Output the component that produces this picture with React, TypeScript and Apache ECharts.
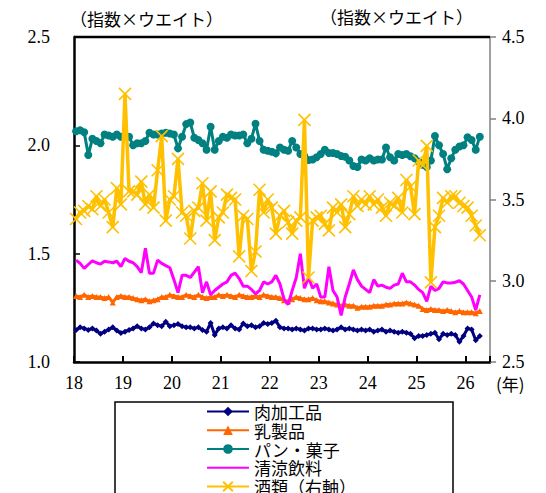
import React, { useEffect, useRef } from "react";
import * as echarts from "echarts";

const seriesNames = ["肉加工品", "乳製品", "パン・菓子", "清涼飲料", "酒類（右軸）"];
const yearTicks = [18, 19, 20, 21, 22, 23, 24, 25, 26];

const meat = [
  1.148, 1.16, 1.155, 1.148, 1.155, 1.145, 1.13, 1.14, 1.15, 1.16, 1.145, 1.134,
  1.14, 1.148, 1.155, 1.165, 1.155, 1.15, 1.16, 1.178, 1.17, 1.165, 1.186, 1.165,
  1.17, 1.175, 1.165, 1.16, 1.16, 1.155, 1.16, 1.148, 1.14, 1.18, 1.125, 1.155,
  1.16, 1.155, 1.17, 1.155, 1.15, 1.178, 1.165, 1.17, 1.16, 1.165, 1.18, 1.175,
  1.18, 1.19, 1.16, 1.155, 1.155, 1.15, 1.155, 1.15, 1.145, 1.155, 1.155, 1.15,
  1.15, 1.155, 1.15, 1.145, 1.15, 1.16, 1.15, 1.155, 1.15, 1.145, 1.15, 1.145,
  1.15, 1.14, 1.145, 1.15, 1.14, 1.145, 1.14, 1.135, 1.14, 1.135, 1.13, 1.11,
  1.12, 1.12, 1.125, 1.13, 1.135, 1.105, 1.13, 1.125, 1.13, 1.125, 1.094, 1.12,
  1.155, 1.15, 1.10, 1.12,
];

const dairy = [
  1.305, 1.30, 1.31, 1.30, 1.305, 1.30, 1.30, 1.295, 1.30, 1.275, 1.30, 1.305,
  1.30, 1.30, 1.295, 1.29, 1.285, 1.29, 1.28, 1.285, 1.29, 1.30, 1.30, 1.31,
  1.305, 1.30, 1.30, 1.31, 1.305, 1.30, 1.31, 1.30, 1.295, 1.30, 1.30, 1.31,
  1.305, 1.31, 1.305, 1.30, 1.31, 1.305, 1.30, 1.30, 1.305, 1.30, 1.31, 1.305,
  1.30, 1.30, 1.295, 1.285, 1.28, 1.29, 1.30, 1.295, 1.29, 1.29, 1.295, 1.285,
  1.28, 1.28, 1.275, 1.27, 1.265, 1.26, 1.265, 1.26, 1.26, 1.25, 1.255, 1.255,
  1.255, 1.26, 1.26, 1.26, 1.265, 1.265, 1.27, 1.27, 1.27, 1.275, 1.27, 1.265,
  1.26, 1.245, 1.24, 1.245, 1.24, 1.24, 1.235, 1.24, 1.235, 1.23, 1.235, 1.23,
  1.23, 1.23, 1.225, 1.235,
];

const bread = [
  2.065, 2.07, 2.06, 1.955, 2.03, 2.02, 2.01, 2.05, 2.045, 2.04, 2.05, 2.04,
  2.045, 2.04, 2.0, 2.01, 2.01, 2.02, 2.058, 2.05, 2.05, 2.055, 2.058, 2.055,
  2.05, 1.986, 2.04, 2.098, 2.105, 2.035, 2.025, 2.01, 1.98, 2.086, 1.98, 2.02,
  2.04, 2.035, 2.05, 2.045, 2.045, 2.05, 2.01, 2.03, 2.10, 2.02, 1.98, 1.975,
  1.97, 1.963, 1.99, 1.98, 1.975, 2.02, 1.99, 1.96, 1.95, 1.932, 1.935, 1.945,
  1.96, 1.98, 1.965, 1.965, 1.96, 1.951, 1.947, 1.93, 1.905, 1.90, 1.935, 1.93,
  1.94, 1.93, 1.935, 1.935, 1.99, 1.945, 1.93, 1.96, 1.955, 1.96, 1.95, 1.94,
  1.925, 1.91, 1.90, 1.93, 2.043, 2.0, 1.96, 1.89, 1.94, 1.98, 1.995, 2.0,
  2.037, 2.025, 1.98, 2.04,
];

const softDrinks = [
  1.47, 1.455, 1.432, 1.45, 1.467, 1.458, 1.452, 1.465, 1.462, 1.458, 1.465, 1.44,
  1.478, 1.465, 1.458, 1.44, 1.412, 1.525, 1.41, 1.41, 1.47, 1.455, 1.445, 1.435,
  1.38, 1.32, 1.40, 1.40, 1.39, 1.415, 1.44, 1.32, 1.37, 1.31, 1.33, 1.345,
  1.36, 1.37, 1.40, 1.41, 1.385, 1.35, 1.35, 1.335, 1.315, 1.33, 1.37, 1.36,
  1.37, 1.40, 1.36, 1.29, 1.265, 1.33, 1.39, 1.50, 1.34, 1.39, 1.34, 1.36,
  1.30, 1.30, 1.44, 1.33, 1.30, 1.215, 1.30, 1.36, 1.425, 1.38, 1.35, 1.335,
  1.32, 1.38, 1.35, 1.355, 1.345, 1.34, 1.355, 1.36, 1.41, 1.37, 1.37, 1.355,
  1.335, 1.32, 1.28, 1.35, 1.33, 1.34, 1.37, 1.365, 1.365, 1.368, 1.375, 1.36,
  1.33, 1.30, 1.24, 1.31,
];

const alcohol = [
  3.38, 3.42, 3.43, 3.46, 3.44, 3.52, 3.46, 3.50, 3.42, 3.33, 3.57, 3.47,
  4.15, 3.55, 3.55, 3.53, 3.61, 3.47, 3.53, 3.45, 3.68, 3.89, 3.37, 3.50,
  3.52, 3.75, 3.42, 3.40, 3.26, 3.43, 3.45, 3.60, 3.37, 3.55, 3.25, 3.39,
  3.42, 3.53, 3.51, 3.50, 3.15, 3.40, 3.38, 3.06, 3.18, 3.56, 3.42, 3.50,
  3.45, 3.29, 3.40, 3.43, 3.36, 3.29, 3.37, 3.39, 3.99, 3.02, 3.37, 3.39,
  3.40, 3.35, 3.31, 3.45, 3.42, 3.47, 3.33, 3.41, 3.52, 3.46, 3.50, 3.47,
  3.52, 3.47, 3.50, 3.45, 3.40, 3.48, 3.46, 3.51, 3.42, 3.62, 3.58, 3.41,
  3.74, 3.71, 3.83, 2.99, 3.33, 3.40, 3.51, 3.48, 3.52, 3.52, 3.48, 3.46,
  3.45, 3.40, 3.34, 3.28,
];

const toPairs = (arr: number[]) => arr.map((v, i) => [18 + (i + 0.5) / 12, v]);

const serifFont = '"Liberation Serif", "DejaVu Serif", serif';
const cjkFont = '"Noto Sans CJK JP", "Noto Sans", sans-serif';

export default function App() {
  const ref = useRef<HTMLDivElement>(null);
  useEffect(() => {
    if (!ref.current) return;
    const chart = echarts.init(ref.current, undefined, { renderer: "svg" });
    const colors = ["#000080", "#FF6600", "#008080", "#FF00FF", "#FFC000"];
    const datasets = [meat, dairy, bread, softDrinks, alcohol];
    const symbols = [
      "diamond",
      "triangle",
      "circle",
      "none",
      "path://M0 0L10 10M10 0L0 10",
    ];
    const sizes = [6, 6, 8, 0, 12];
    const series = datasets.map((d, k) => ({
      name: seriesNames[k],
      type: "line",
      yAxisIndex: k === 4 ? 1 : 0,
      data: toPairs(d),
      symbol: symbols[k],
      symbolSize: sizes[k],
      showSymbol: k !== 3,
      lineStyle: { color: colors[k], width: k === 4 ? 3.5 : 3 },
      itemStyle:
        k === 4
          ? { color: colors[k], borderColor: colors[k], borderWidth: 1.6 }
          : { color: colors[k], borderWidth: 0 },
      emphasis: { disabled: true },
      z: 2 + k,
    }));
    const legendData = seriesNames.map((n, k) =>
      k === 3 ? { name: n, itemStyle: { opacity: 0 } } : { name: n }
    );
    chart.setOption({
      animation: false,
      grid: { left: 74, right: 56, top: 37, bottom: 131, containLabel: false },
      xAxis: {
        type: "value",
        min: 18,
        max: 26.5,
        interval: 1,
        splitLine: { show: false },
        axisLine: { lineStyle: { color: "#000", width: 2.5 } },
        axisTick: { inside: true, length: 6, lineStyle: { color: "#000", width: 2 } },
        axisLabel: {
          margin: 12,
          fontSize: 18,
          fontFamily: serifFont,
          color: "#000",
          formatter: (v: number) =>
            yearTicks.indexOf(Math.round(v * 1000) / 1000) >= 0 ? String(v) : "",
        },
      },
      yAxis: [
        {
          type: "value",
          min: 1.0,
          max: 2.5,
          interval: 0.5,
          splitLine: { show: false },
          axisLine: { show: true, lineStyle: { color: "#000", width: 2.5 } },
          axisTick: { show: true, inside: true, length: 6, lineStyle: { color: "#000", width: 1.5 } },
          axisLabel: {
            margin: 24,
            fontSize: 18,
            fontFamily: serifFont,
            color: "#000",
            formatter: (v: number) => v.toFixed(1),
          },
        },
        {
          type: "value",
          position: "right",
          min: 2.5,
          max: 4.5,
          interval: 0.5,
          splitLine: { show: false },
          axisLine: { show: true, lineStyle: { color: "#808080", width: 1.5 } },
          axisTick: { show: true, inside: false, length: 6, lineStyle: { color: "#808080", width: 1.5 } },
          axisLabel: {
            margin: 12,
            fontSize: 18,
            fontFamily: serifFont,
            color: "#000",
            formatter: (v: number) => v.toFixed(1),
          },
        },
      ],
      legend: {
        orient: "vertical",
        left: 206,
        top: 403,
        height: 140,
        itemWidth: 42,
        itemHeight: 12,
        itemGap: 1.75,
        padding: 0,
        selectedMode: false,
        textStyle: { fontSize: 17, lineHeight: 17, fontFamily: cjkFont, color: "#000" },
        data: legendData,
      },
      graphic: [
        {
          type: "line",
          shape: { x1: 74, y1: 37, x2: 490, y2: 37 },
          style: { stroke: "#000", lineWidth: 2.5 },
          z: 10,
        },
        {
          type: "rect",
          shape: { x: 115, y: 402, width: 338, height: 130 },
          style: { fill: "#fff", stroke: "#000", lineWidth: 1.5 },
          z: 0,
        },
        {
          type: "text",
          x: 70,
          y: 10,
          style: { text: "（指数×ウエイト）", fontSize: 17, fontFamily: cjkFont, fill: "#000" },
        },
        {
          type: "text",
          x: 320,
          y: 8,
          style: { text: "（指数×ウエイト）", fontSize: 17, fontFamily: cjkFont, fill: "#000" },
        },
        {
          type: "text",
          x: 496,
          y: 375,
          style: { text: "(年)", fontSize: 17, fontFamily: cjkFont, fill: "#000" },
        },
      ],
      series,
    });
    return () => chart.dispose();
  }, []);
  return (
    <div
      ref={ref}
      style={{ position: "fixed", left: 0, top: 0, width: 546, height: 493, background: "#fff" }}
    />
  );
}
